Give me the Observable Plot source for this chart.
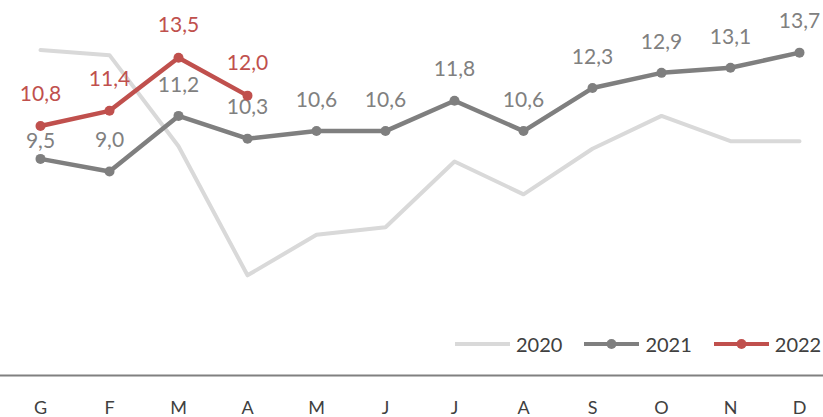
<!DOCTYPE html>
<html>
<head>
<meta charset="utf-8">
<script src="https://cdn.jsdelivr.net/npm/d3@7"></script>
<script src="https://cdn.jsdelivr.net/npm/@observablehq/plot@0.6"></script>
<style>
  body { margin: 0; background: #fff; }
  #wrap { position: relative; width: 823px; height: 417px; font-family: Lato, "Open Sans", sans-serif; }
  #legend { position: absolute; left: 455px; top: 332px; display: flex; align-items: center; font-size: 20px; color: #404040; }
  #legend .item { display: flex; align-items: center; margin-right: 22px; }
  #legend .item:last-child { margin-right: 0; }
  #legend svg { margin-right: 6px; }
</style>
</head>
<body>
<div id="wrap"></div>
<script>
const months = ["G","F","M","A","M","J","J","A","S","O","N","D"];
const values2020 = [13.8, 13.6, 10.0, 4.9, 6.5, 6.8, 9.4, 8.1, 9.9, 11.2, 10.2, 10.2];
const values2021 = [9.5, 9.0, 11.2, 10.3, 10.6, 10.6, 11.8, 10.6, 12.3, 12.9, 13.1, 13.7];
const values2022 = [10.8, 11.4, 13.5, 12.0];
const seriesNames = ["2020", "2021", "2022"];
const colors = {"2020": "#d9d9d9", "2021": "#7f7f7f", "2022": "#c0504d"};
const labelColors = {"2021": "#808080", "2022": "#c0504d"};

const toRows = (vals, name) => vals.map((v, i) => ({i, month: months[i], value: v, series: name}));
const d2020 = toRows(values2020, "2020");
const d2021 = toRows(values2021, "2021");
const d2022 = toRows(values2022, "2022");
const fmt = v => d3.format(".1f")(v).replace(".", ",");

const chart = Plot.plot({
  width: 823,
  height: 417,
  marginTop: 0,
  marginBottom: 42,
  marginLeft: 0,
  marginRight: 0,
  style: {fontFamily: "Lato, 'Open Sans', sans-serif", background: "#fff"},
  x: {type: "point", domain: d3.range(12), range: [36, 802], padding: 0, axis: null, label: null},
  y: {domain: [0.94, 15.76], axis: null, label: null},
  marks: [
    Plot.frame({anchor: "bottom", stroke: "#808080", strokeWidth: 2}),
    Plot.axisX(d3.range(12), {tickSize: 0, tickPadding: 26, fontSize: 18, fill: "#404040", label: null, tickFormat: i => months[i]}),
    Plot.line(d2020, {x: "i", y: "value", stroke: colors["2020"], strokeWidth: 4}),
    Plot.line(d2021, {x: "i", y: "value", stroke: colors["2021"], strokeWidth: 4.5}),
    Plot.dot(d2021, {x: "i", y: "value", r: 5, fill: colors["2021"]}),
    Plot.text(d2021.filter(d => d.i !== 0), {x: "i", y: "value", text: d => fmt(d.value), dy: -31, fontSize: 21, fill: labelColors["2021"]}),
    Plot.text(d2021.filter(d => d.i === 0), {x: "i", y: "value", text: d => fmt(d.value), dy: -18, fontSize: 21, fill: labelColors["2021"]}),
    Plot.line(d2022, {x: "i", y: "value", stroke: colors["2022"], strokeWidth: 4.5}),
    Plot.dot(d2022, {x: "i", y: "value", r: 5, fill: colors["2022"]}),
    Plot.text(d2022, {x: "i", y: "value", text: d => fmt(d.value), dy: -32, fontSize: 21, fill: labelColors["2022"]})
  ]
});

const wrap = document.getElementById("wrap");
wrap.appendChild(chart);

const legend = document.createElement("div");
legend.id = "legend";
seriesNames.forEach(name => {
  const item = document.createElement("div");
  item.className = "item";
  const withDot = name !== "2020";
  item.innerHTML =
    `<svg width="55" height="12"><line x1="0" y1="6" x2="55" y2="6" stroke="${colors[name]}" stroke-width="4"/>` +
    (withDot ? `<circle cx="27.5" cy="6" r="5" fill="${colors[name]}"/>` : "") +
    `</svg><span>${name}</span>`;
  legend.appendChild(item);
});
wrap.appendChild(legend);
</script>
</body>
</html>
